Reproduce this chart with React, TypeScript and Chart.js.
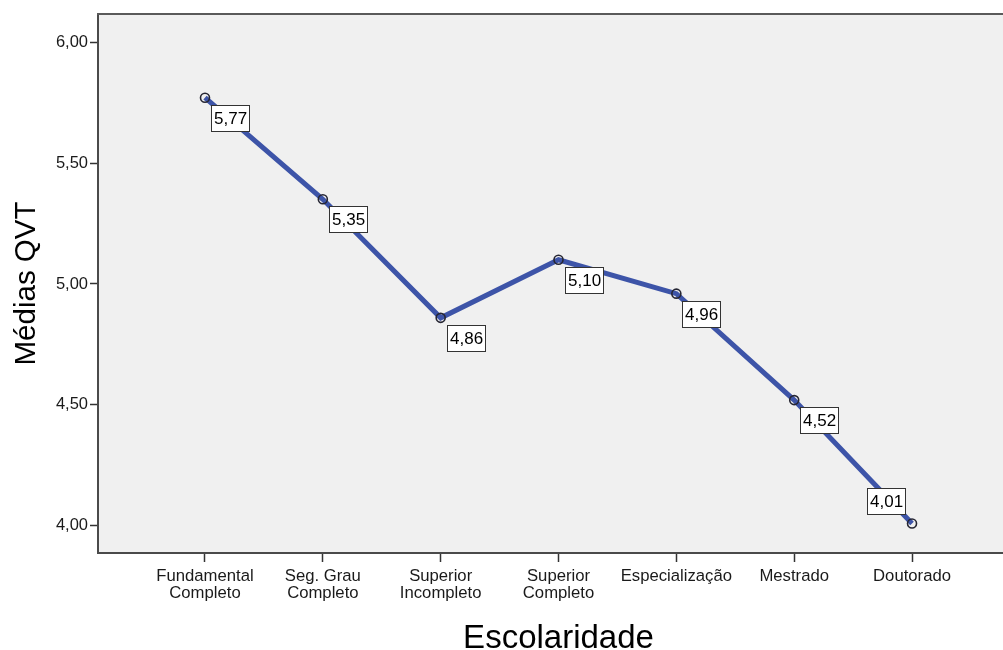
import { useEffect, useRef } from 'react';
import { Chart, registerables } from 'chart.js';

Chart.register(...registerables);

const categories: string[][] = [
  ['Fundamental', 'Completo'],
  ['Seg. Grau', 'Completo'],
  ['Superior', 'Incompleto'],
  ['Superior', 'Completo'],
  ['Especialização'],
  ['Mestrado'],
  ['Doutorado'],
];
const means: number[] = [5.77, 5.35, 4.86, 5.1, 4.96, 4.52, 4.01];
const yTicks: number[] = [4.0, 4.5, 5.0, 5.5, 6.0];
const xTitle = 'Escolaridade';
const yTitle = 'Médias QVT';

const FONT = '"Liberation Sans", Arial, sans-serif';
const fmt = (v: number) => v.toFixed(2).replace('.', ',');

const bgPlugin = {
  id: 'bgPlugin',
  beforeDraw(chart: any) {
    const { ctx, chartArea: ca } = chart;
    ctx.save();
    ctx.fillStyle = '#ffffff';
    ctx.fillRect(0, 0, chart.width, chart.height);
    ctx.fillStyle = '#f0f0f0';
    ctx.fillRect(ca.left, ca.top, ca.right - ca.left, ca.bottom - ca.top);
    ctx.restore();
  },
  afterDraw(chart: any) {
    const { ctx, chartArea: ca } = chart;
    ctx.save();
    ctx.strokeStyle = '#5a5a5a';
    ctx.lineWidth = 2;
    ctx.beginPath();
    ctx.moveTo(ca.left - 1, ca.top);
    ctx.lineTo(ca.right, ca.top);
    ctx.stroke();
    const xs = chart.scales.x;
    const first = xs.getPixelForValue(0);
    const last = xs.getPixelForValue(categories.length - 1);
    ctx.fillStyle = '#000';
    ctx.font = `33px ${FONT}`;
    ctx.textAlign = 'center';
    ctx.textBaseline = 'alphabetic';
    ctx.fillText(xTitle, (first + last) / 2, chart.height - 2);
    ctx.restore();
  },
};

const labelPlugin = {
  id: 'labelPlugin',
  afterDatasetsDraw(chart: any) {
    const { ctx, chartArea: ca } = chart;
    const meta = chart.getDatasetMeta(0);
    ctx.save();
    ctx.font = `17px ${FONT}`;
    ctx.textBaseline = 'middle';
    ctx.textAlign = 'left';
    meta.data.forEach((pt: any, i: number) => {
      const text = fmt(means[i]);
      const w = Math.round(ctx.measureText(text).width + 6);
      const h = 27;
      let bx = Math.round(pt.x + 6);
      let by = Math.round(pt.y + 7);
      if (by + h > ca.bottom - 2) {
        bx = Math.round(pt.x - 6 - w);
        by = Math.round(pt.y - 8 - h);
      }
      ctx.fillStyle = '#ffffff';
      ctx.fillRect(bx, by, w, h);
      ctx.strokeStyle = '#333333';
      ctx.lineWidth = 1;
      ctx.strokeRect(bx + 0.5, by + 0.5, w - 1, h - 1);
      ctx.fillStyle = '#000000';
      ctx.fillText(text, bx + 3, by + h / 2 + 1);
    });
    ctx.restore();
  },
};

export default function App() {
  const ref = useRef<HTMLCanvasElement>(null);
  useEffect(() => {
    if (!ref.current) return;
    Chart.defaults.font.family = FONT;
    const chart = new Chart(ref.current, {
      type: 'line',
      data: {
        datasets: [
          {
            data: means.map((v, i) => ({ x: i, y: v })),
            borderColor: '#3d54a8',
            borderWidth: 5,
            pointRadius: 4.5,
            pointBorderWidth: 1.6,
            pointBorderColor: '#262633',
            pointBackgroundColor: 'rgba(0,0,0,0)',
            tension: 0,
          },
        ],
      },
      options: {
        animation: false,
        responsive: false,
        maintainAspectRatio: false,
        devicePixelRatio: 1,
        layout: { autoPadding: false, padding: { top: 14, left: 0, right: 0, bottom: 0 } },
        plugins: { legend: { display: false }, tooltip: { enabled: false } },
        scales: {
          x: {
            type: 'linear',
            min: -0.908,
            max: 6.772,
            afterFit: (s: any) => {
              s.height = 97;
              s.paddingLeft = 0;
              s.paddingRight = 0;
            },
            afterBuildTicks: (s: any) => {
              s.ticks = categories.map((_, i) => ({ value: i }));
            },
            grid: {
              drawOnChartArea: false,
              drawTicks: true,
              tickLength: 9,
              tickWidth: 1.5,
              tickColor: '#333',
            },
            border: { display: true, color: '#4a4a4a', width: 2 },
            ticks: {
              autoSkip: false,
              maxRotation: 0,
              padding: 6,
              color: '#1a1a1a',
              font: { size: 16.7, lineHeight: 1.02 },
              callback: (v: any) => categories[Math.round(Number(v))] ?? '',
            },
            title: { display: false },
          },
          y: {
            type: 'linear',
            min: 3.888,
            max: 6.116,
            afterFit: (s: any) => {
              s.width = 98;
              s.paddingTop = 0;
              s.paddingBottom = 0;
            },
            afterBuildTicks: (s: any) => {
              s.ticks = yTicks.map((v) => ({ value: v }));
            },
            grid: {
              drawOnChartArea: false,
              drawTicks: true,
              tickLength: 8,
              tickWidth: 1.5,
              tickColor: '#333',
            },
            border: { display: true, color: '#4a4a4a', width: 2 },
            ticks: {
              padding: 2,
              color: '#1a1a1a',
              font: { size: 16.5 },
              callback: (v: any) => fmt(Number(v)),
            },
            title: {
              display: true,
              text: yTitle,
              color: '#000',
              font: { size: 29.5, lineHeight: 1.2 },
              padding: { top: 9, bottom: 0 },
            },
          },
        },
      },
      plugins: [bgPlugin, labelPlugin],
    });
    return () => chart.destroy();
  }, []);

  return (
    <div style={{ position: 'absolute', left: 0, top: 0, width: 1003, height: 650, background: '#fff' }}>
      <canvas ref={ref} width={1003} height={650} style={{ display: 'block', width: 1003, height: 650 }} />
    </div>
  );
}
